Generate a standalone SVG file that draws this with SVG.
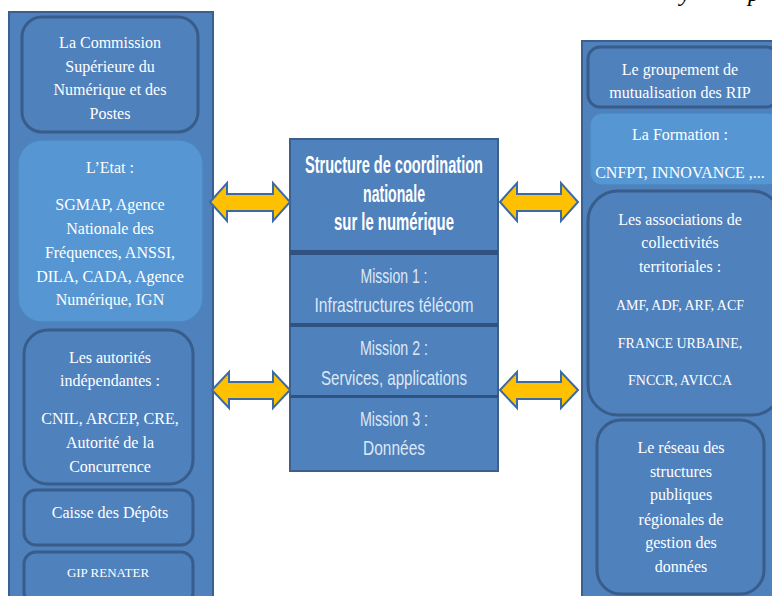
<svg xmlns="http://www.w3.org/2000/svg" width="772" height="596" viewBox="0 0 772 596">
<defs>
<style>
.panel{fill:#4f81bd;stroke:#3b5f8e;stroke-width:2}
.box{fill:#4f81bd;stroke:#385d8a;stroke-width:3}
.lbox{fill:#5596d3;stroke:#4a86c0;stroke-width:1.5}
.t{font-size:16px;fill:#ffffff;text-anchor:middle}
.s{font-size:14px}
.h{font-family:"Liberation Sans Narrow","Liberation Sans",Arial,sans-serif;font-weight:bold;font-size:23px;fill:#ffffff;text-anchor:middle}
.m{font-family:"Liberation Sans Narrow","Liberation Sans",Arial,sans-serif;font-size:21px;fill:#dde8f5;text-anchor:middle}
.arr{fill:#ffc000;stroke:#3c6aa3;stroke-width:2;stroke-linejoin:miter}
.sep{fill:#2f5280}
</style>
</defs>
<rect width="772" height="596" fill="#ffffff"/>
<g font-family="Liberation Serif, Times New Roman, serif">
<text x="680" y="1" font-style="italic" font-size="24" fill="#000">y</text>
<text x="748" y="1" font-style="italic" font-size="24" fill="#000">p</text>
</g>

<g id="left-panel">
<rect class="panel" x="9" y="12" width="204" height="600"/>
</g>
<g id="commission" font-family="Liberation Serif, Times New Roman, serif">
<rect class="box" x="22" y="17" width="176" height="115" rx="20"/>
<text class="t" x="110" y="48">La Commission</text>
<text class="t" x="110" y="72">Supérieure du</text>
<text class="t" x="110" y="95">Numérique et des</text>
<text class="t" x="110" y="119">Postes</text>
</g>
<g id="etat" font-family="Liberation Serif, Times New Roman, serif">
<rect class="lbox" x="18" y="140" width="185" height="182" rx="24"/>
<text class="t" x="110" y="173">L’Etat :</text>
<text class="t" x="110" y="210">SGMAP, Agence</text>
<text class="t" x="110" y="234">Nationale des</text>
<text class="t" x="110" y="258">Fréquences, ANSSI,</text>
<text class="t" x="110" y="282">DILA, CADA, Agence</text>
<text class="t" x="110" y="305">Numérique, IGN</text>
</g>
<g id="autorites" font-family="Liberation Serif, Times New Roman, serif">
<rect class="box" x="24" y="330" width="169" height="154" rx="24"/>
<text class="t" x="110" y="363">Les autorités</text>
<text class="t" x="110" y="386">indépendantes :</text>
<text class="t" x="110" y="424">CNIL, ARCEP, CRE,</text>
<text class="t" x="110" y="448">Autorité de la</text>
<text class="t" x="110" y="472">Concurrence</text>
</g>
<g id="caisse" font-family="Liberation Serif, Times New Roman, serif">
<rect class="box" x="24" y="490" width="169" height="55" rx="12"/>
<text class="t" x="110" y="518">Caisse des Dépôts</text>
</g>
<g id="renater" font-family="Liberation Serif, Times New Roman, serif">
<rect class="box" x="24" y="552" width="169" height="52" rx="12"/>
<text class="t s" x="108" y="577" style="font-size:13px">GIP RENATER</text>
</g>

<g id="center">
<rect x="290" y="139" width="208" height="332" fill="#4f81bd" stroke="#3d5f8c" stroke-width="2"/>
<rect class="sep" x="290" y="250" width="208" height="5"/>
<rect class="sep" x="290" y="323" width="208" height="4"/>
<rect class="sep" x="290" y="395" width="208" height="3"/>
<text class="h" x="394" y="173" textLength="178" lengthAdjust="spacingAndGlyphs">Structure de coordination</text>
<text class="h" x="394" y="202" textLength="62" lengthAdjust="spacingAndGlyphs">nationale</text>
<text class="h" x="394" y="230" textLength="120" lengthAdjust="spacingAndGlyphs">sur le numérique</text>
<text class="m" x="394" y="283" textLength="67" lengthAdjust="spacingAndGlyphs">Mission 1 :</text>
<text class="m" x="394" y="312" textLength="159" lengthAdjust="spacingAndGlyphs">Infrastructures télécom</text>
<text class="m" x="394" y="355" textLength="68" lengthAdjust="spacingAndGlyphs">Mission 2 :</text>
<text class="m" x="394" y="385" textLength="146" lengthAdjust="spacingAndGlyphs">Services, applications</text>
<text class="m" x="394" y="426" textLength="68" lengthAdjust="spacingAndGlyphs">Mission 3 :</text>
<text class="m" x="394" y="455" textLength="62" lengthAdjust="spacingAndGlyphs">Données</text>
</g>

<g id="right-panel">
<rect class="panel" x="582" y="41" width="200" height="570"/>
</g>
<g id="groupement" font-family="Liberation Serif, Times New Roman, serif">
<rect class="box" x="588" y="47" width="190" height="60" rx="12"/>
<text class="t" x="680" y="75">Le groupement de</text>
<text class="t" x="680" y="98">mutualisation des RIP</text>
</g>
<g id="formation" font-family="Liberation Serif, Times New Roman, serif">
<rect class="lbox" x="590" y="113" width="190" height="72" rx="12"/>
<text class="t" x="680" y="140">La Formation :</text>
<text class="t" x="680" y="178">CNFPT, INNOVANCE ,...</text>
</g>
<g id="associations" font-family="Liberation Serif, Times New Roman, serif">
<rect class="box" x="588" y="191" width="194" height="224" rx="30"/>
<text class="t" x="680" y="225">Les associations de</text>
<text class="t" x="680" y="248">collectivités</text>
<text class="t" x="680" y="272">territoriales :</text>
<text class="t s" x="680" y="310">AMF, ADF, ARF, ACF</text>
<text class="t s" x="680" y="348">FRANCE URBAINE,</text>
<text class="t s" x="680" y="385">FNCCR, AVICCA</text>
</g>
<g id="reseau" font-family="Liberation Serif, Times New Roman, serif">
<rect class="box" x="597" y="420" width="167" height="174" rx="24"/>
<text class="t" x="681" y="453">Le réseau des</text>
<text class="t" x="681" y="477">structures</text>
<text class="t" x="681" y="500">publiques</text>
<text class="t" x="681" y="525">régionales de</text>
<text class="t" x="681" y="548">gestion des</text>
<text class="t" x="681" y="572">données</text>
</g>

<g id="connectors">
<polygon class="arr" points="210,202 227,183 227,194 273,194 273,183 290,202 273,221 273,211 227,211 227,221"/>
<polygon class="arr" points="500,202 517,183 517,194 561,194 561,183 578,202 561,221 561,211 517,211 517,221"/>
<polygon class="arr" points="212,390 229,372 229,382 273,382 273,372 290,390 273,408 273,399 229,399 229,408"/>
<polygon class="arr" points="500,390 517,372 517,382 561,382 561,372 578,390 561,408 561,399 517,399 517,408"/>
</g>
</svg>
